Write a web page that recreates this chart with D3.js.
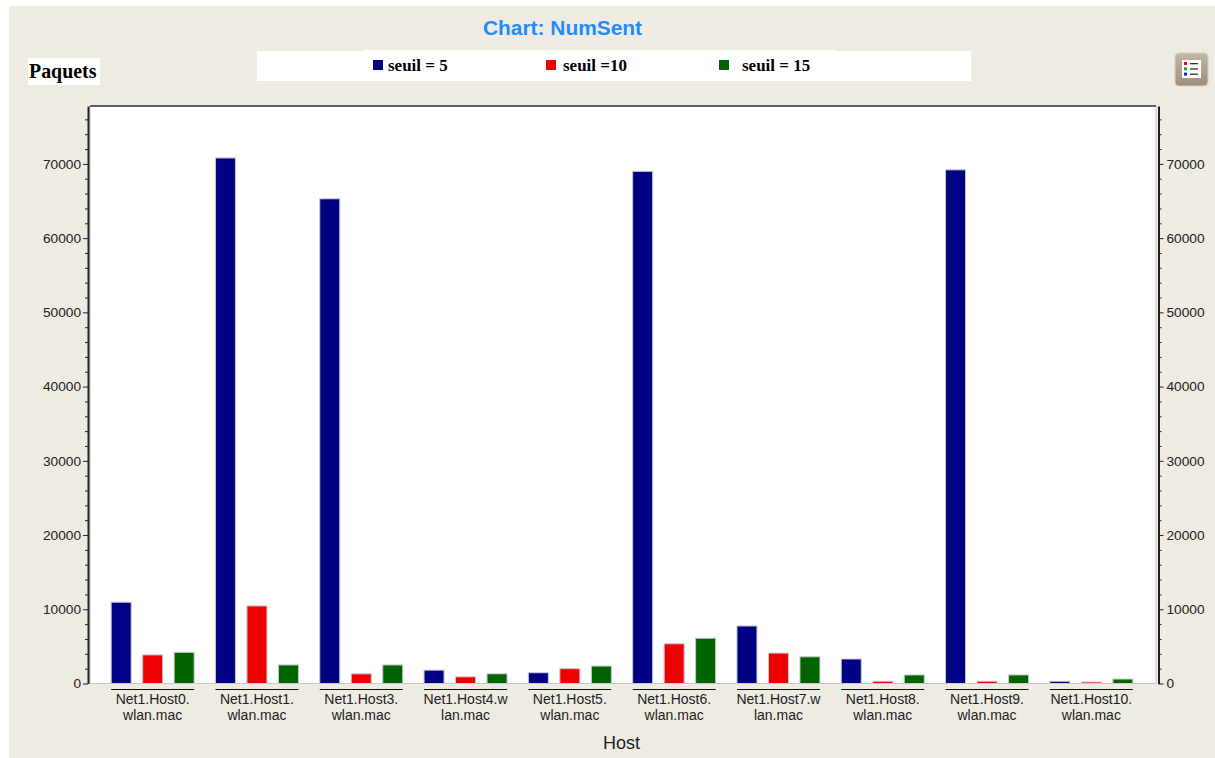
<!DOCTYPE html>
<html>
<head>
<meta charset="utf-8">
<script src="https://cdn.jsdelivr.net/npm/d3@7"></script>
<style>
html,body{margin:0;padding:0;background:#fff;}
svg{display:block;}
.axis text{font-family:"Liberation Sans",sans-serif;font-size:13.7px;fill:#222;}
.axis path,.axis line{stroke:#222;}
.cat{font-family:"Liberation Sans",sans-serif;font-size:14px;fill:#222;text-anchor:middle;}
.leg{font-family:"Liberation Serif",serif;font-size:17px;font-weight:bold;fill:#000;}
</style>
</head>
<body>
<script>
var hosts = ['Host0','Host1','Host3','Host4','Host5','Host6','Host7','Host8','Host9','Host10'];
var line1 = ['Net1.Host0.','Net1.Host1.','Net1.Host3.','Net1.Host4.w','Net1.Host5.','Net1.Host6.','Net1.Host7.w','Net1.Host8.','Net1.Host9.','Net1.Host10.'];
var line2 = ['wlan.mac','wlan.mac','wlan.mac','lan.mac','wlan.mac','wlan.mac','lan.mac','wlan.mac','wlan.mac','wlan.mac'];

var seuil5  = [10950,70800,65300,1800,1450,69000,7750,3300,69200,300];
var seuil10 = [3850,10450,1300,900,2000,5350,4100,300,300,200];
var seuil15 = [4200,2500,2500,1300,2350,6100,3600,1150,1150,600];

var seriesNames = ['seuil = 5','seuil =10','seuil = 15'];
var seriesColors = ['#000085','#ee0000','#006400'];
var seriesValues = [seuil5,seuil10,seuil15];

var yTicks = [0,10000,20000,30000,40000,50000,60000,70000];
var yMinor = d3.range(0,78000,2000).filter(function(d){return d%10000!=0;});

var width = 1215, height = 758;
var left = 90, right = 1156, top_ = 106, bottom = 683.5;

var svg = d3.select('body').append('svg').attr('width',width).attr('height',height);

// window background
svg.append('rect').attr('x',9).attr('y',6).attr('width',width-9).attr('height',height-6).attr('fill','#eeebe3');

var y = d3.scaleLinear().domain([0,77800]).range([bottom,top_]);
var x0 = d3.scaleBand().domain(hosts).range([100.5,1143.5]).padding(0);
var x1 = d3.scaleBand().domain(seriesNames).range([x0.bandwidth()/2-41.5,x0.bandwidth()/2+41.5]).paddingInner(0.365).paddingOuter(0);

svg.append('rect').attr('x',left).attr('y',top_).attr('width',right-left).attr('height',bottom-top_)
  .attr('fill','#fff').attr('stroke','#ccc8c8').attr('stroke-width',1);
svg.append('line').attr('x1',left).attr('x2',right).attr('y1',top_).attr('y2',top_).attr('stroke','#333').attr('stroke-width',1.5);

// bars
var grp = svg.selectAll('g.grp').data(hosts).enter().append('g').attr('class','grp')
  .attr('transform',function(d){return 'translate('+x0(d)+',0)';});

seriesNames.forEach(function(s,k){
  grp.append('rect')
    .attr('x',x1(s))
    .attr('width',x1.bandwidth())
    .attr('y',function(d,i){return y(seriesValues[k][i]);})
    .attr('height',function(d,i){return bottom-y(seriesValues[k][i]);})
    .attr('fill',seriesColors[k])
    .attr('stroke','#c9c9d2')
    .attr('stroke-width',1);
});

// group underline and wrapped labels
grp.append('line')
  .attr('x1',x1(seriesNames[0])).attr('x2',x1(seriesNames[2])+x1.bandwidth())
  .attr('y1',689.5).attr('y2',689.5).attr('stroke','#111').attr('stroke-width',1);
grp.append('text').attr('class','cat').attr('x',x0.bandwidth()/2).attr('y',703.5)
  .text(function(d,i){return line1[i];});
grp.append('text').attr('class','cat').attr('x',x0.bandwidth()/2).attr('y',720)
  .text(function(d,i){return line2[i];});

// y axes
function addAxis(pos,maker,pad){
  var major = maker(y).tickValues(yTicks).tickFormat(d3.format('d')).tickSize(5).tickSizeOuter(0).tickPadding(pad);
  var minor = maker(y).tickValues(yMinor).tickFormat('').tickSize(3).tickSizeOuter(0);
  var g = svg.append('g').attr('class','axis').attr('transform','translate('+pos+',0)');
  g.call(major);
  g.append('g').call(minor).select('.domain').remove();
  g.selectAll('.domain').attr('stroke-width',2);
}
addAxis(88,d3.axisLeft,2);
addAxis(1158.5,d3.axisRight,3);

// titles
svg.append('text').attr('x',562.5).attr('y',35).attr('text-anchor','middle')
  .attr('font-family','Liberation Sans, sans-serif').attr('font-size',20.9).attr('font-weight','bold')
  .attr('fill','#1e8cff').text('Chart: NumSent');
svg.append('rect').attr('x',28).attr('y',58).attr('width',72).attr('height',27).attr('fill','#fff');
svg.append('text').attr('x',29).attr('y',77.5).attr('font-family','Liberation Serif, serif')
  .attr('font-size',19.9).attr('font-weight','bold').attr('fill','#000').text('Paquets');
svg.append('text').attr('x',621.5).attr('y',749).attr('text-anchor','middle')
  .attr('font-family','Liberation Sans, sans-serif').attr('font-size',18).attr('fill','#222').text('Host');

// legend
svg.append('rect').attr('x',257).attr('y',51).attr('width',714).attr('height',30).attr('fill','#fff');
svg.append('rect').attr('x',363).attr('y',50).attr('width',472).attr('height',30).attr('fill','#fff');
var legendX = d3.scaleOrdinal().domain(seriesNames).range([373,546,719]);
var legendText = d3.scaleOrdinal().domain(seriesNames).range([388,563,742]);
var leg = svg.selectAll('g.legend').data(seriesNames).enter().append('g').attr('class','legend');
leg.append('rect').attr('x',function(d){return legendX(d);}).attr('y',60).attr('width',10).attr('height',10)
  .attr('fill',function(d,i){return seriesColors[i];});
leg.append('text').attr('class','leg').attr('x',function(d){return legendText(d);}).attr('y',71)
  .text(function(d){return d;});

// legend toggle button
var btn = svg.append('g').attr('transform','translate(1175,53)');
var grad = svg.append('defs').append('linearGradient').attr('id','btn').attr('x1',0).attr('x2',0).attr('y1',0).attr('y2',1);
grad.append('stop').attr('offset','0%').attr('stop-color','#c4b8a6');
grad.append('stop').attr('offset','100%').attr('stop-color','#9d8f7a');
btn.append('rect').attr('width',33).attr('height',33).attr('rx',4).attr('fill','url(#btn)').attr('stroke','#d5cfc4');
btn.append('rect').attr('x',7).attr('y',7).attr('width',19).attr('height',18).attr('fill','#fff');
var dotColors = ['#e01010','#10b020','#1020e0'];
dotColors.forEach(function(c,i){
  btn.append('rect').attr('x',9).attr('y',9+i*5.3).attr('width',3).attr('height',3).attr('fill',c);
  btn.append('rect').attr('x',15).attr('y',10+i*5.3).attr('width',8).attr('height',1.3).attr('fill','#333');
});
</script>
</body>
</html>
